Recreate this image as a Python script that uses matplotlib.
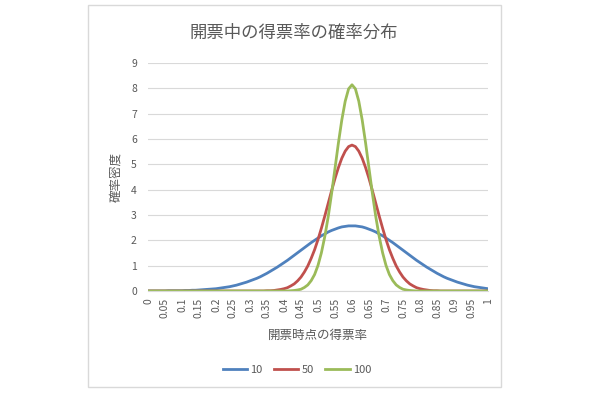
import matplotlib.pyplot as plt

plt.rcParams['font.family'] = ['Noto Sans CJK JP', 'DejaVu Sans']

# 得票率 (x), one point every 0.01
x = [i / 100 for i in range(101)]

# values
n10 = [0.00, 0.00, 0.00, 0.00, 0.00, 0.00, 0.01, 0.01, 0.01, 0.01,
       0.01, 0.02, 0.02, 0.03, 0.03, 0.04, 0.05, 0.06, 0.07, 0.08,
       0.09, 0.11, 0.13, 0.15, 0.17, 0.20, 0.23, 0.27, 0.31, 0.35,
       0.40, 0.45, 0.50, 0.56, 0.63, 0.70, 0.78, 0.86, 0.94, 1.03,
       1.12, 1.21, 1.31, 1.41, 1.51, 1.61, 1.71, 1.81, 1.91, 2.00,
       2.09, 2.18, 2.25, 2.33, 2.39, 2.44, 2.49, 2.53, 2.55, 2.57,
       2.57, 2.57, 2.55, 2.53, 2.49, 2.44, 2.39, 2.33, 2.25, 2.18,
       2.09, 2.00, 1.91, 1.81, 1.71, 1.61, 1.51, 1.41, 1.31, 1.21,
       1.12, 1.03, 0.94, 0.86, 0.78, 0.70, 0.63, 0.56, 0.50, 0.45,
       0.40, 0.35, 0.31, 0.27, 0.23, 0.20, 0.17, 0.15, 0.13, 0.11,
       0.09]
n50 = [0.00] * 35 + [0.01, 0.01, 0.02, 0.04, 0.06, 0.09, 0.13, 0.20, 0.28, 0.40,
                     0.55, 0.75, 0.99, 1.29, 1.63, 2.03, 2.48, 2.96, 3.46, 3.96,
                     4.44, 4.87, 5.24, 5.52, 5.70, 5.76, 5.70, 5.52, 5.24, 4.87,
                     4.44, 3.96, 3.46, 2.96, 2.48, 2.03, 1.63, 1.29, 0.99, 0.75,
                     0.55, 0.40, 0.28, 0.20, 0.13, 0.09, 0.06, 0.04, 0.02, 0.01,
                     0.01] + [0.00] * 15
n100 = [0.00] * 42 + [0.01, 0.02, 0.04, 0.07, 0.14, 0.24, 0.41, 0.65, 1.01, 1.51,
                      2.15, 2.93, 3.85, 4.84, 5.84, 6.75, 7.49, 7.98, 8.14, 7.98,
                      7.49, 6.75, 5.84, 4.84, 3.85, 2.93, 2.15, 1.51, 1.01, 0.65,
                      0.41, 0.24, 0.14, 0.07, 0.04, 0.02, 0.01] + [0.00] * 22

series = [("10", n10, "#4F81BD"), ("50", n50, "#C0504D"), ("100", n100, "#9BBB59")]

tick_pos = [i / 20 for i in range(21)]
tick_labels = ["0", "0.05", "0.1", "0.15", "0.2", "0.25", "0.3", "0.35", "0.4",
               "0.45", "0.5", "0.55", "0.6", "0.65", "0.7", "0.75", "0.8",
               "0.85", "0.9", "0.95", "1"]

txt = "#595959"
W, H = 590, 393

fig = plt.figure(figsize=(5.9, 3.93), dpi=100)
# chart frame
frame = plt.Rectangle((88 / W, 1 - 387 / H), 413 / W, 382 / H, transform=fig.transFigure,
                      fill=False, edgecolor="#D9D9D9", linewidth=1)
fig.patches.append(frame)

ax = fig.add_axes([148 / W, 1 - 291 / H, 340 / W, 228 / H])
for name, vals, col in series:
    ax.plot(x, vals, color=col, linewidth=2, label=name)

ax.set_xlim(0, 1)
ax.set_ylim(0, 9)
ax.set_yticks(range(10))
ax.set_xticks(tick_pos)
ax.set_xticklabels(tick_labels, rotation=90)
ax.tick_params(axis="both", length=0, labelsize=7.5, labelcolor=txt)
ax.tick_params(axis="y", pad=8)
ax.tick_params(axis="x", pad=5)
ax.grid(axis="y", color="#D9D9D9", linewidth=0.8)
ax.set_axisbelow(True)
for s in ["top", "right", "left"]:
    ax.spines[s].set_visible(False)
ax.spines["bottom"].set_color("#D9D9D9")

ax.set_ylabel("確率密度", color=txt, fontsize=9, labelpad=6)
ax.set_xlabel("開票時点の得票率", color=txt, fontsize=9, labelpad=8)

fig.text(294 / W, 1 - 33 / H, "開票中の得票率の確率分布", ha="center", va="center",
         fontsize=12.5, color=txt)

fig.legend(loc="center", bbox_to_anchor=(297 / W, 1 - 370 / H), ncol=3, frameon=False,
           fontsize=8, labelcolor=txt, handlelength=2.2, columnspacing=1.0,
           handletextpad=0.3)

fig.savefig("out.png", dpi=100)
